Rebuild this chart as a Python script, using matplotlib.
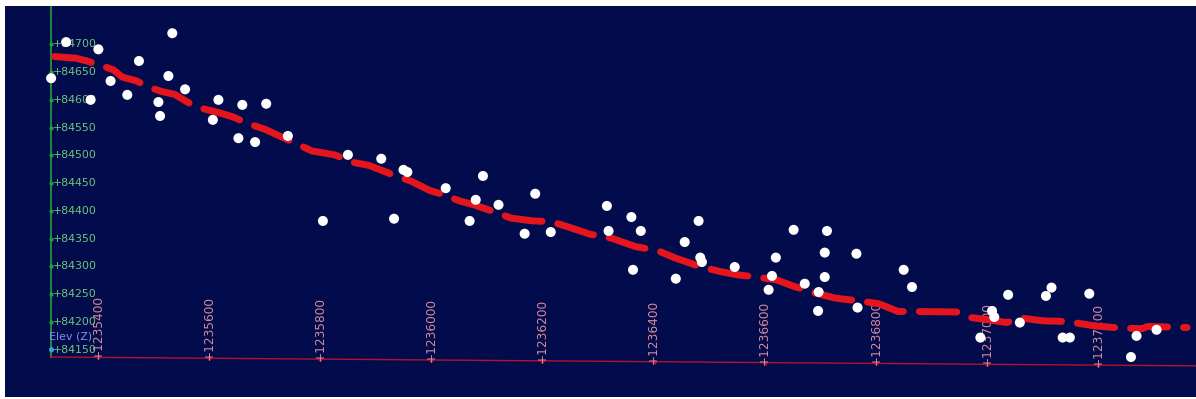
import matplotlib
matplotlib.use("Agg")
import matplotlib.pyplot as plt

# survey points: chainage (m) and elevation
dot_x = [1235316, 1235343, 1235401, 1235387, 1235423, 1235453, 1235474, 1235509, 1235512, 1235527,
         1235534, 1235557, 1235607, 1235617, 1235653, 1235660, 1235683, 1235703, 1235742, 1235805,
         1235850, 1235910, 1235950, 1235957, 1235933, 1236026, 1236093, 1236080, 1236069, 1236121,
         1236187, 1236168, 1236215, 1236316, 1236319, 1236360, 1236377, 1236363, 1236481, 1236456,
         1236440, 1236484, 1236487, 1236546, 1236620, 1236613, 1236607, 1236652, 1236672, 1236712,
         1236708, 1236708, 1236697, 1236696, 1236765, 1236767, 1236850, 1236865, 1237009, 1237013,
         1236988, 1237038, 1237059, 1237106, 1237116, 1237136, 1237149, 1237184, 1237269, 1237259,
         1237305]
dot_z = [84639, 84704, 84691, 84600, 84634, 84609, 84670, 84596, 84571, 84643,
         84720, 84619, 84564, 84600, 84531, 84591, 84524, 84593, 84535, 84382,
         84501, 84494, 84474, 84470, 84386, 84441, 84463, 84420, 84382, 84411,
         84431, 84359, 84362, 84409, 84364, 84389, 84364, 84294, 84382, 84344,
         84278, 84316, 84308, 84299, 84316, 84283, 84258, 84366, 84269, 84364,
         84325, 84281, 84254, 84220, 84323, 84226, 84294, 84263, 84220, 84209,
         84172, 84249, 84199, 84247, 84262, 84172, 84172, 84251, 84175, 84137,
         84186]

# smoothed profile (red dashed)
line_x = [1235322, 1235361, 1235380, 1235403, 1235428, 1235444, 1235470, 1235489, 1235515, 1235538,
          1235563, 1235586, 1235618, 1235644, 1235671, 1235701, 1235727, 1235756, 1235785, 1235826,
          1235862, 1235888, 1235926, 1235965, 1235997, 1236023, 1236051, 1236077, 1236106, 1236144,
          1236183, 1236215, 1236247, 1236286, 1236324, 1236367, 1236409, 1236437, 1236480, 1236519,
          1236551, 1236586, 1236621, 1236653, 1236692, 1236727, 1236777, 1236805, 1236840, 1236872,
          1236946, 1236971, 1237003, 1237035, 1237063, 1237102, 1237144, 1237194, 1237243, 1237279,
          1237289, 1237328, 1237360]
line_z = [84678, 84675, 84670, 84663, 84654, 84641, 84634, 84624, 84615, 84610,
          84595, 84585, 84577, 84569, 84557, 84547, 84535, 84522, 84508, 84501,
          84487, 84482, 84467, 84453, 84437, 84429, 84418, 84411, 84401, 84387,
          84382, 84381, 84371, 84358, 84351, 84336, 84328, 84316, 84301, 84291,
          84285, 84281, 84276, 84264, 84252, 84243, 84237, 84233, 84219, 84219,
          84218, 84208, 84204, 84199, 84207, 84202, 84201, 84193, 84189, 84188,
          84192, 84191, 84190]

x_ticks = [1235400, 1235600, 1235800, 1236000, 1236200, 1236400, 1236600, 1236800, 1237000, 1237200]
z_ticks = [84150, 84200, 84250, 84300, 84350, 84400, 84450, 84500, 84550, 84600, 84650, 84700]

bg = '#020c4d'
green = '#22a33a'
green_txt = '#72c47a'
pink_txt = '#d8899a'
axis_red = '#b3122e'

x0, z0 = 1235315, 84137      # where the two axes meet
xmax = 1237376
tilt = 16 / (xmax - x0)      # the x axis sags a little to the right


def axis_z(x):
    return z0 - tilt * (x - x0)


fig = plt.figure(figsize=(11.96, 3.99), dpi=100)
fig.patch.set_facecolor('white')
ax = fig.add_axes([5 / 1196, 2 / 399, 1191 / 1196, 391 / 399])
ax.set_facecolor(bg)
ax.set_xlim(1235233, xmax)
ax.set_ylim(84065, 84769)
ax.set_xticks([])
ax.set_yticks([])
for s in ax.spines.values():
    s.set_visible(False)

# y axis
ax.plot([x0, x0], [z0, 84769], color=green, lw=1.2, zorder=2)
ax.plot([x0] * len(z_ticks), z_ticks, 'o', color=green, ms=2, zorder=2)
for z in z_ticks:
    ax.annotate('+%d' % z, xy=(x0, z), xytext=(1.5, 0), textcoords='offset points',
                color=green_txt, fontsize=7.9, va='center', ha='left', zorder=3)

# x axis
ax.plot([x0, xmax], [axis_z(x0), axis_z(xmax)], color=axis_red, lw=1.0, zorder=2)
ax.plot(x_ticks, [axis_z(t) for t in x_ticks], 'o', color=axis_red, ms=2, zorder=2)
for t in x_ticks:
    ax.annotate('+%d' % t, xy=(t, axis_z(t)), xytext=(0, -1.5), textcoords='offset points',
                color=pink_txt, fontsize=8.7, rotation=90, ha='center', va='bottom', zorder=3)

ax.annotate('Elev (Z)', xy=(x0, 84150), xytext=(-1, 6), textcoords='offset points',
            color='#7f8ee8', fontsize=7.9, va='bottom', ha='left', zorder=3)
ax.plot([x0], [84152], 'o', color='#3aa0e0', ms=2.5, zorder=3)

# profile and points
ax.plot(line_x, line_z, color='#e5151e', lw=5, dashes=(5.4, 2.3),
        dash_capstyle='round', solid_capstyle='round', zorder=4)
ax.scatter(dot_x, dot_z, s=52, color='white', edgecolors='none', zorder=5)

fig.savefig('out.png', dpi=100, facecolor=fig.get_facecolor())
